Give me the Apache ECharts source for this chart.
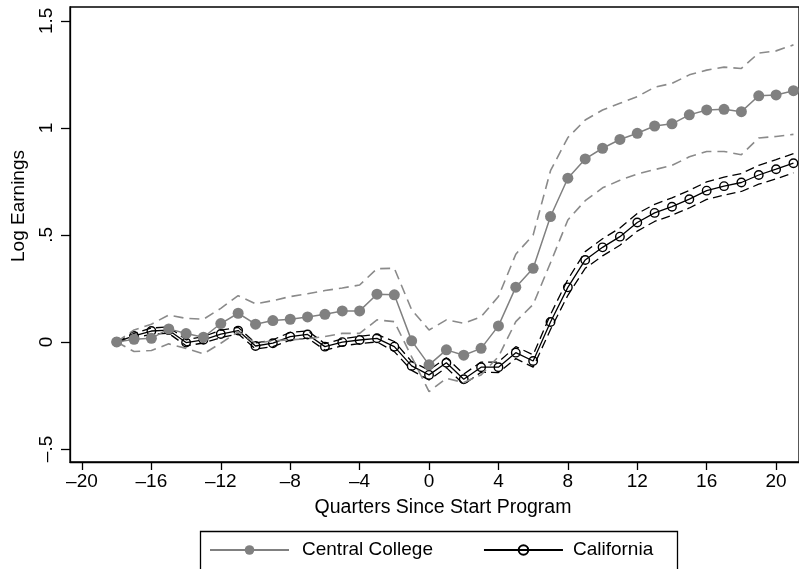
<!DOCTYPE html>
<html>
<head>
<meta charset="utf-8">
<script src="https://cdn.jsdelivr.net/npm/echarts@6/dist/echarts.min.js"></script>
<style>html,body{margin:0;padding:0;background:#fff}#c{width:799px;height:569px}</style>
</head>
<body>
<div id="c"></div>
<script>
var quarters = [-18,-17,-16,-15,-14,-13,-12,-11,-10,-9,-8,-7,-6,-5,-4,-3,-2,-1,0,1,2,3,4,5,6,7,8,9,10,11,12,13,14,15,16,17,18,19,20,21];
var centralCollege = [0,0.012,0.017,0.061,0.039,0.022,0.086,0.134,0.083,0.1,0.106,0.117,0.129,0.145,0.145,0.223,0.22,0.005,-0.107,-0.037,-0.062,-0.03,0.075,0.256,0.344,0.586,0.765,0.855,0.905,0.946,0.975,1.009,1.019,1.061,1.084,1.087,1.076,1.15,1.154,1.174];
var centralUpper = [0,0.056,0.083,0.126,0.11,0.106,0.157,0.216,0.178,0.193,0.212,0.225,0.24,0.252,0.266,0.342,0.344,0.15,0.056,0.103,0.087,0.118,0.212,0.41,0.5,0.8,0.955,1.037,1.084,1.115,1.146,1.19,1.208,1.248,1.27,1.284,1.278,1.35,1.36,1.388];
var centralLower = [0,-0.045,-0.04,-0.009,-0.03,-0.056,-0.006,0.048,-0.006,0.005,0.01,0.015,0.025,0.04,0.04,0.103,0.095,-0.07,-0.232,-0.17,-0.19,-0.154,-0.069,0.095,0.175,0.37,0.57,0.66,0.72,0.755,0.785,0.805,0.825,0.865,0.89,0.89,0.875,0.953,0.96,0.97];
var california = [0,0.028,0.051,0.055,-0.003,0.01,0.037,0.053,-0.019,-0.006,0.025,0.035,-0.022,-0.001,0.009,0.017,-0.022,-0.112,-0.154,-0.097,-0.174,-0.118,-0.118,-0.05,-0.089,0.093,0.255,0.383,0.442,0.492,0.558,0.603,0.632,0.667,0.707,0.728,0.745,0.78,0.807,0.835];
var californiaUpper = [0,0.04,0.065,0.07,0.01,0.025,0.055,0.068,-0.005,0.01,0.045,0.052,-0.008,0.014,0.026,0.035,0.002,-0.092,-0.132,-0.074,-0.15,-0.094,-0.094,-0.022,-0.06,0.128,0.292,0.422,0.482,0.532,0.6,0.643,0.673,0.708,0.748,0.77,0.787,0.825,0.852,0.88];
var californiaLower = [0,0.016,0.037,0.04,-0.018,-0.005,0.02,0.038,-0.033,-0.022,0.008,0.018,-0.038,-0.018,-0.008,0,-0.045,-0.133,-0.178,-0.12,-0.198,-0.142,-0.143,-0.078,-0.118,0.058,0.218,0.344,0.402,0.452,0.518,0.563,0.592,0.626,0.666,0.686,0.703,0.737,0.762,0.79];
var xTicks = [-20,-16,-12,-8,-4,0,4,8,12,16,20];
var yTicks = [-0.5,0,0.5,1,1.5];

function pairs(vals){ return quarters.map(function(q,i){ return [q, vals[i]]; }); }
function fmtNum(v){
  if (v === 0) return '0';
  var s = String(Math.abs(v)).replace(/^0(?=\.)/, '');
  return (v < 0 ? '\u2013' : '') + s;
}
var FONT = 'Liberation Sans, Arial, Helvetica, sans-serif';
var GRAY = '#808080', DGRAY = '#8a8a8a';

var chart = echarts.init(document.getElementById('c'), null, {renderer:'canvas'});
chart.setOption({
  animation: false,
  backgroundColor: '#fff',
  grid: {left: 70, top: 7, right: -2, bottom: 107, show: true, borderColor: '#000', borderWidth: 1.3, containLabel: false},
  xAxis: {
    type: 'value', min: -20.69, max: 21.32,
    axisLine: {show: true, onZero: false, lineStyle: {color: '#000', width: 1.3}},
    axisTick: {show: true, customValues: xTicks, length: 8, lineStyle: {color: '#000', width: 1.3}},
    axisLabel: {customValues: xTicks, formatter: fmtNum, margin: 10, fontFamily: FONT, fontSize: 19, color: '#000'},
    splitLine: {show: false}
  },
  yAxis: {
    type: 'value', min: -0.561, max: 1.565,
    axisLine: {show: true, onZero: false, lineStyle: {color: '#000', width: 1.3}},
    axisTick: {show: true, customValues: yTicks, length: 9, lineStyle: {color: '#000', width: 1.3}},
    axisLabel: {customValues: yTicks, formatter: fmtNum, rotate: 90, margin: 14, fontFamily: FONT, fontSize: 19, color: '#000'},
    splitLine: {show: false}
  },
  graphic: [
    {type: 'text', x: 443, y: 508, style: {text: 'Quarters Since Start Program', fontFamily: FONT, fontSize: 19.5, fill: '#000', textAlign: 'center', textVerticalAlign: 'middle'}},
    {type: 'text', x: 19, y: 206, rotation: Math.PI/2, style: {text: 'Log Earnings', fontFamily: FONT, fontSize: 19, fill: '#000', textAlign: 'center', textVerticalAlign: 'middle'}},
    {type: 'rect', shape: {x: 200.5, y: 531.5, width: 477, height: 50}, style: {fill: 'none', stroke: '#000', lineWidth: 1.3}}
  ],
  legend: {
    left: 209, top: 540, padding: 0, itemWidth: 79, itemHeight: 12, itemGap: 50,
    textStyle: {fontFamily: FONT, fontSize: 19, color: '#000', lineHeight: 20, padding: [0,0,0,8]},
    data: [{name: 'Central College'}, {name: 'California', textStyle: {padding: [0,0,0,5]}}]
  },
  series: [
    {name: 'California Upper', type: 'line', data: pairs(californiaUpper), symbol: 'none', z: 2,
      lineStyle: {color: '#000', width: 1.3, type: [9,5]}},
    {name: 'California Lower', type: 'line', data: pairs(californiaLower), symbol: 'none', z: 2,
      lineStyle: {color: '#000', width: 1.3, type: [9,5]}},
    {name: 'California', type: 'line', data: pairs(california), symbol: 'circle', symbolSize: 8.5, z: 3,
      itemStyle: {color: 'rgba(0,0,0,0)', borderColor: '#000', borderWidth: 1.4},
      lineStyle: {color: '#000', width: 1.3}},
    {name: 'Central Upper', type: 'line', data: pairs(centralUpper), symbol: 'none', z: 4,
      lineStyle: {color: DGRAY, width: 1.6, type: [10,6]}},
    {name: 'Central Lower', type: 'line', data: pairs(centralLower), symbol: 'none', z: 4,
      lineStyle: {color: DGRAY, width: 1.6, type: [10,6]}},
    {name: 'Central College', type: 'line', data: pairs(centralCollege), symbol: 'circle', symbolSize: 11, z: 5,
      itemStyle: {color: GRAY, borderWidth: 0},
      lineStyle: {color: GRAY, width: 1.5}}
  ]
});
</script>
</body>
</html>
